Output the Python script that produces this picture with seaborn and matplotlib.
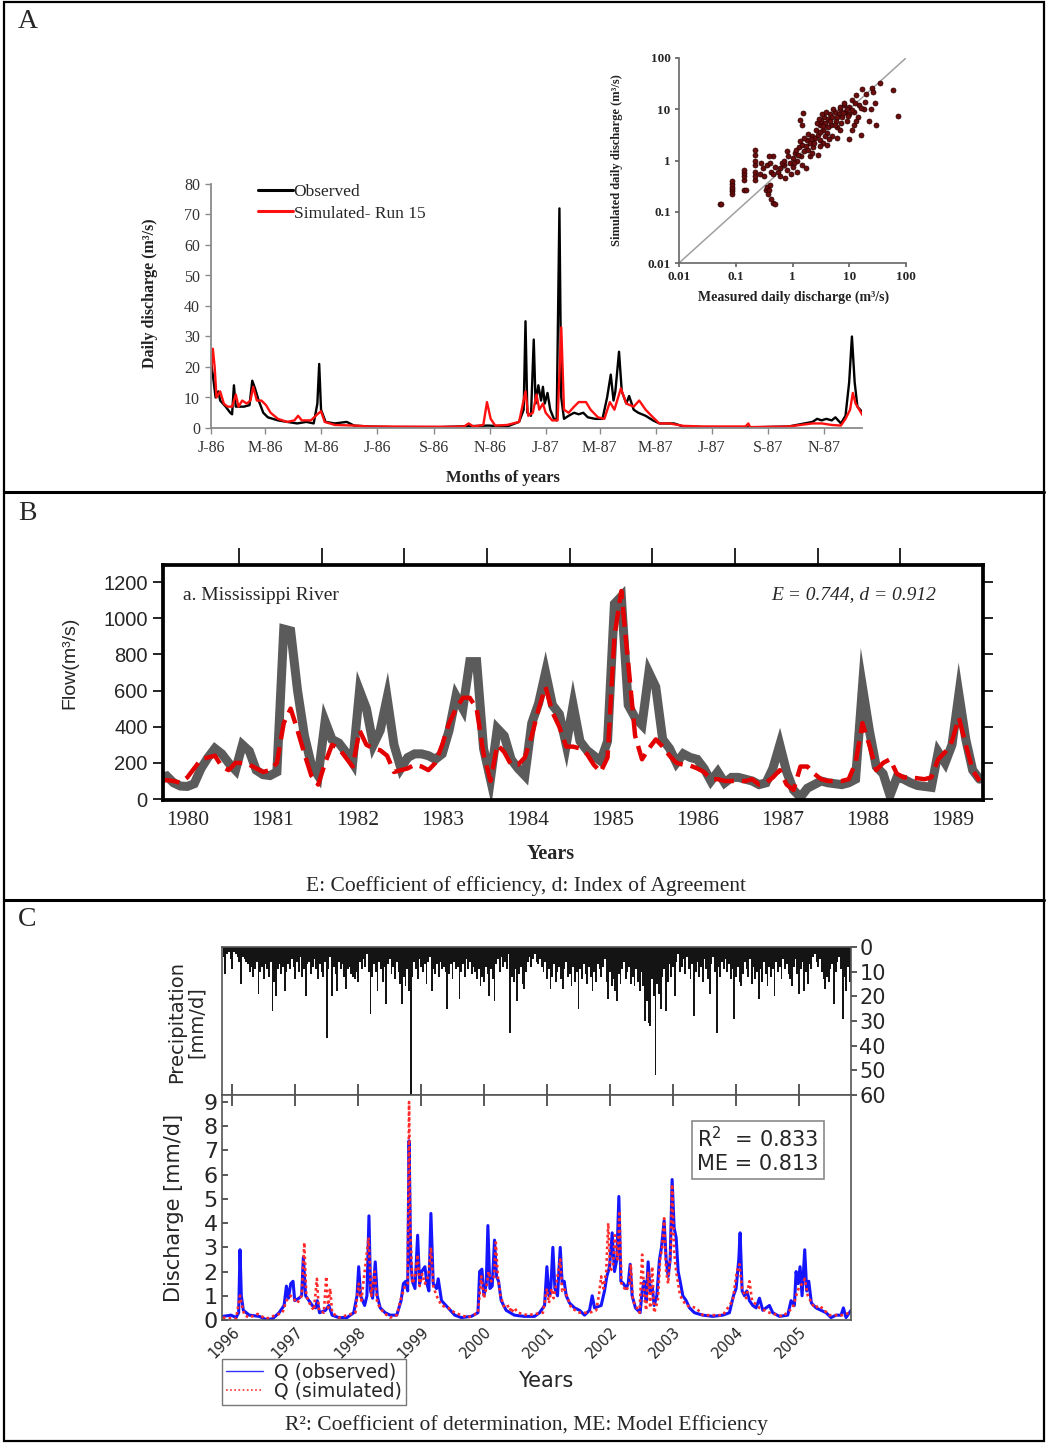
import numpy as np
import pandas as pd
import matplotlib
matplotlib.use("Agg")
import matplotlib.pyplot as plt
import seaborn as sns
from matplotlib.lines import Line2D
from matplotlib.patches import Rectangle

sns.set_theme(style="white")
plt.rcParams["font.family"] = ["Liberation Serif", "DejaVu Sans"]
plt.rcParams["axes.unicode_minus"] = False

# ---------------- DATA: panel A (daily discharge 1986-1987) ----------------
a_month_days = [0, 59, 120, 181, 243, 304, 365, 424, 485, 546, 608, 669]
a_month_labels = ["J-86", "M-86", "M-86", "J-86", "S-86", "N-86",
                  "J-87", "M-87", "M-87", "J-87", "S-87", "N-87"]

a_obs_day = [0, 3, 5, 8, 10, 16, 21, 23, 25, 27, 31, 36, 42, 45, 48, 52, 57, 62, 73, 83,
             94, 104, 112, 116, 118, 120, 125, 135, 148, 156, 172, 198, 250, 302, 323,
             336, 341, 343, 345, 349, 352, 354, 357, 360, 362, 364, 367, 370, 374, 377,
             380, 382, 385, 390, 396, 401, 406, 411, 419, 427, 432, 436, 439, 441, 445,
             448, 453, 456, 461, 466, 474, 482, 489, 505, 515, 536, 588, 630, 656, 661,
             666, 671, 677, 681, 687, 692, 696, 699, 702, 705, 711]
a_obs_q = [22, 15, 10, 12, 9, 7, 5, 4.5, 14, 7, 7, 7, 7.5, 15.5, 13, 9, 5, 3.5, 2.5, 2,
           1.5, 2, 1.5, 8, 21, 6, 2, 1.5, 2, 0.8, 0.5, 0.3, 0.3, 0.8, 0.5,
           2, 6, 35, 5, 4, 29, 8, 14, 9, 13.5, 8, 11.5, 6, 3, 2.5,
           72, 10, 3, 4, 5, 4.5, 5, 3.5, 3, 3, 10, 17.5, 9, 12, 25,
           12, 8, 10.5, 6, 5, 4, 2.5, 1.5, 1.5, 0.5, 0.3, 0.2, 0.5, 2, 3,
           2.5, 3, 2.5, 3.5, 1.5, 4, 15, 30, 15, 7, 5]

a_sim_day = [0, 2, 4, 6, 10, 14, 18, 23, 27, 30, 34, 39, 43, 46, 50, 55, 60, 65, 73, 83,
             91, 95, 99, 109, 116, 120, 124, 135, 156, 172, 250, 276, 281, 286, 297, 301,
             305, 310, 323, 336, 343, 346, 351, 355, 358, 362, 365, 372, 378, 382, 385,
             390, 396, 401, 409, 414, 422, 429, 435, 440, 447, 453, 461, 467, 474, 482,
             489, 500, 515, 536, 583, 586, 588, 630, 656, 666, 677, 687, 692, 697, 700,
             703, 707, 711]
a_sim_q = [18, 26, 20, 10, 12, 8, 7, 7, 11, 7, 9, 8, 9, 13.5, 9, 9, 7.5, 5, 3, 2,
           2.5, 4, 2.5, 2.5, 4.5, 5.5, 2, 1, 0.8, 0.5, 0.4, 0.5, 1.5, 0.5, 1, 8.5,
           3, 0.8, 1, 2, 12, 4, 5, 11, 6, 8, 5, 2.5, 2.5, 33, 6,
           5, 7, 8.5, 8.5, 6, 3.5, 3, 8.5, 6, 13, 8, 7, 9, 6, 3.5,
           1.5, 1.5, 0.7, 0.5, 0.5, 1.5, 0.3, 0.5, 1.5, 1.5, 1, 0.8, 3, 6, 11.5,
           8, 6, 4]

# inset scatter: measured vs simulated daily discharge (m3/s)
a_meas = [0.053, 0.056, 0.086, 0.086, 0.086, 0.086, 0.086, 0.086, 0.137, 0.137, 0.137,
          0.137, 0.14, 0.15, 0.22, 0.22, 0.22, 0.22, 0.22, 0.22, 0.22, 0.27, 0.3, 0.32,
          0.35, 0.4, 0.42, 0.45, 0.5, 0.28, 0.38, 0.34, 0.36, 0.38, 0.4, 0.37, 0.45, 0.5,
          0.42, 0.6, 0.7, 0.8, 0.9, 1.0, 1.0, 1.1, 1.2, 1.3, 1.4, 1.5, 1.6, 1.8, 1.9,
          2.0, 2.2, 2.3, 2.5, 2.6, 2.8, 3.0, 3.0, 3.2, 3.4, 3.6, 3.8, 4.0, 4.2, 4.5,
          4.8, 5.0, 5.5, 5.8, 6.0, 6.5, 7.0, 7.5, 8.0, 8.5, 9.0, 10, 10, 11, 12, 13,
          14, 15, 17, 18, 20, 22, 25, 28, 30, 35, 60, 72, 0.8, 1.5, 2.0, 2.8, 3.5,
          5.0, 6.0, 7.0, 10, 12, 16, 0.95, 0.75, 1.2, 1.7, 4.0, 1.33, 1.56, 1.45,
          0.65, 0.55, 0.7, 0.85, 1.05, 1.15, 1.25, 1.35, 1.6, 1.7, 1.85, 2.1, 2.4,
          2.7, 2.9, 3.1, 3.3, 3.5, 3.7, 3.9, 4.3, 4.6, 5.2, 5.5, 6.2, 6.8, 7.2, 7.8,
          8.2, 9.0, 9.5, 11, 12.5, 13, 16, 19, 24, 26, 0.45, 0.6, 2.2, 3.0, 4.4, 11]
a_simq = [0.14, 0.14, 0.22, 0.25, 0.28, 0.31, 0.35, 0.39, 0.42, 0.5, 0.58,
          0.66, 0.27, 0.27, 0.42, 0.5, 0.6, 0.8, 1.0, 1.3, 1.6, 0.55, 0.7, 0.5,
          0.8, 0.9, 0.6, 1.2, 0.75, 0.9, 1.2, 0.26, 0.3, 0.27, 0.33, 0.22, 0.15, 0.14,
          0.18, 0.7, 0.8, 0.65, 0.9, 1.1, 0.75, 1.4, 1.0, 1.8, 1.2, 2.0, 1.5, 2.5, 1.6,
          2.2, 3.0, 1.8, 2.7, 4.0, 3.2, 5.0, 2.5, 6.0, 4.0, 7.0, 5.5, 3.5, 6.5, 8.0,
          5.0, 7.0, 9.0, 6.0, 4.5, 8.0, 10.0, 7.0, 12.0, 9.0, 6.0, 11, 8, 15, 9, 19,
          7, 12, 25, 10, 20, 6, 26, 13, 5, 32, 24, 7.5, 1.5, 0.8, 1.2, 1.3, 2.2,
          3.0, 2.8, 4.0, 2.6, 5, 3.2, 0.55, 0.45, 0.6, 0.7, 2.0, 6.3, 8.4, 5.0,
          0.9, 0.6, 1.0, 1.2, 0.9, 1.6, 1.3, 2.4, 2.8, 1.9, 3.3, 2.6, 2.2,
          5.5, 6.5, 3.6, 8.0, 4.8, 3.0, 9.0, 4.5, 6.0, 10.0, 5.0, 7.0, 11.0, 5.5, 8.5,
          13.0, 10.0, 7.5, 9.5, 13, 6, 10.5, 14, 10, 22, 0.55, 0.5, 1.4, 1.9, 2.6, 4.0]

# ---------------- DATA: panel B (monthly flow, Mississippi 1980-1989) ----------------
b_years = ["1980", "1981", "1982", "1983", "1984", "1985", "1986", "1987", "1988", "1989"]
b_obs = [120, 128, 90, 72, 70, 85, 170, 230, 280, 250, 200, 160,
         300, 265, 160, 135, 130, 150, 940, 930, 600, 350, 190, 130,
         430, 330, 310, 260, 200, 600, 500, 300, 380, 560, 300, 170,
         230, 250, 250, 240, 220, 250, 380, 570, 500, 760, 760, 280,
         110, 390, 350, 220, 170, 130, 420, 530, 700, 520, 470, 300,
         520, 320, 270, 240, 210, 320, 1080, 1120, 520, 450, 410, 700,
         620, 330, 280, 200, 250, 230, 220, 170, 100, 150, 90, 120,
         120, 110, 100, 80, 90, 170, 300, 150, 50, 10, 60, 80,
         100, 90, 85, 80, 90, 110, 620, 380, 180, 140, 20, 120,
         110, 90, 75, 70, 65, 260, 200, 300, 580, 330, 160, 110]
b_sim = [100, 105, 100, 90, 120, 170, 220, 230, 240, 180, 160, 200,
         200, 190, 170, 150, 160, 200, 420, 500, 380, 250, 130, 80,
         200, 300, 280, 230, 180, 380, 300, 280, 270, 240, 150, 160,
         170, 190, 180, 160, 200, 300, 420, 500, 560, 560, 500, 250,
         100, 300, 260, 190, 190, 230, 350, 500, 620, 480, 400, 290,
         290, 280, 250, 190, 150, 230, 900, 1150, 750, 350, 220, 280,
         330, 290, 240, 200, 190, 185, 170, 150, 110, 110, 100, 100,
         100, 100, 110, 80, 90, 120, 160, 80, 50, 180, 180, 140,
         110, 100, 100, 100, 110, 200, 420, 300, 160, 200, 220, 140,
         120, 120, 115, 110, 120, 220, 260, 320, 450, 300, 160, 100]

# ---------------- DATA: panel C (precipitation & discharge 1996-2005) ----------------
c_years = [1996, 1997, 1998, 1999, 2000, 2001, 2002, 2003, 2004, 2005]
# precipitation, one value per ~10-day step starting late 1995 (mm/d)
c_precip = [
    4, 11, 3, 2, 5, 9, 2, 3, 4, 6, 15, 4, 5, 6, 7, 10, 8, 12, 9, 6, 19, 10, 8, 13, 7, 9, 12, 6, 26, 14, 20, 9, 7, 11, 8, 18,
    10, 7, 9, 5, 8, 13, 6, 10, 4, 12, 9, 20, 7, 6, 11, 8, 5, 9, 13, 7, 10, 12, 6, 37, 9, 4, 20, 8, 11, 18, 6, 9, 7, 12, 17, 9,
    8, 11, 12, 13, 10, 14, 6, 9, 5, 8, 3, 10, 27, 12, 7, 10, 18, 6, 9, 14, 8, 23, 7, 5, 11, 8, 13, 6, 10, 15, 23, 12, 16, 9, 18, 60,
    12, 6, 9, 13, 5, 8, 10, 7, 15, 6, 4, 18, 9, 11, 7, 12, 6, 9, 8, 10, 25, 11, 7, 13, 6, 9, 8, 21, 10, 7, 12, 5, 9, 6, 11, 8,
    10, 13, 9, 16, 12, 14, 8, 11, 20, 9, 13, 22, 7, 5, 10, 4, 8, 6, 9, 3, 35, 12, 14, 9, 22, 11, 8, 15, 17, 10, 6, 4, 8, 5, 3, 6,
    7, 5, 8, 10, 6, 13, 9, 17, 12, 7, 14, 10, 8, 13, 17, 9, 6, 12, 11, 16, 8, 14, 10, 25, 9, 13, 7, 11, 15, 8, 12, 18, 10, 14, 7, 9,
    12, 8, 5, 14, 21, 10, 16, 13, 18, 22, 11, 15, 9, 6, 13, 10, 8, 15, 12, 16, 9, 14, 18, 10, 16, 30, 22, 31, 32, 13, 20, 52, 15, 19, 25, 12,
    9, 26, 14, 7, 12, 8, 20, 6, 3, 10, 8, 5, 11, 4, 9, 13, 7, 28, 10, 6, 12, 8, 14, 5, 9, 13, 19, 7, 4, 10, 35, 8, 12, 6, 9, 5,
    10, 7, 13, 9, 29, 12, 8, 14, 16, 11, 6, 9, 12, 5, 15, 8, 13, 10, 21, 9, 14, 6, 11, 16, 8, 12, 9, 20, 6, 10, 8, 13, 5, 9, 7, 11,
    13, 16, 8, 5, 11, 19, 9, 6, 18, 10, 15, 7, 9, 4, 3, 6, 8, 5, 10, 13, 17, 12, 14, 9, 7, 23, 10, 6, 4, 9, 29, 12, 18, 8, 14, 10]

c_obs_t = [1995.853, 1995.984, 1996.063, 1996.105, 1996.126, 1996.147, 1996.179, 1996.274, 1996.432,
           1996.537, 1996.642, 1996.747, 1996.826, 1996.863, 1996.895, 1996.932, 1996.968, 1996.995,
           1997.063, 1997.105, 1997.132, 1997.168, 1997.221, 1997.274, 1997.326, 1997.353, 1997.389,
           1997.484, 1997.537, 1997.589, 1997.695, 1997.826, 1997.932, 1997.984, 1998.011, 1998.042,
           1998.105, 1998.142, 1998.174, 1998.2, 1998.232, 1998.274, 1998.305, 1998.353, 1998.432,
           1998.511, 1998.616, 1998.684, 1998.721, 1998.758, 1998.789, 1998.811, 1998.837, 1998.863,
           1998.905, 1998.947, 1998.979, 1999.011, 1999.063, 1999.095, 1999.126, 1999.158, 1999.195,
           1999.247, 1999.274, 1999.326, 1999.432, 1999.537, 1999.642, 1999.8, 1999.905, 1999.932,
           1999.968, 2000.0, 2000.037, 2000.063, 2000.095, 2000.132, 2000.168, 2000.2, 2000.232,
           2000.274, 2000.353, 2000.484, 2000.642, 2000.804, 2000.884, 2000.963, 2001.0, 2001.032,
           2001.058, 2001.095, 2001.127, 2001.169, 2001.212, 2001.243, 2001.275, 2001.307, 2001.36,
           2001.439, 2001.519, 2001.598, 2001.677, 2001.72, 2001.757, 2001.862, 2001.915, 2001.952,
           2001.995, 2002.037, 2002.074, 2002.111, 2002.143, 2002.175, 2002.217, 2002.259, 2002.291,
           2002.323, 2002.354, 2002.407, 2002.481, 2002.513, 2002.545, 2002.577, 2002.608, 2002.64,
           2002.672, 2002.704, 2002.746, 2002.788, 2002.82, 2002.862, 2002.894, 2002.926, 2002.958,
           2002.989, 2003.021, 2003.053, 2003.085, 2003.116, 2003.159, 2003.212, 2003.265, 2003.344,
           2003.476, 2003.635, 2003.794, 2003.899, 2003.963, 2004.005, 2004.048, 2004.069, 2004.101,
           2004.138, 2004.175, 2004.217, 2004.27, 2004.323, 2004.376, 2004.429, 2004.534, 2004.587,
           2004.693, 2004.825, 2004.878, 2004.931, 2004.958, 2004.989, 2005.021, 2005.053, 2005.095,
           2005.127, 2005.159, 2005.201, 2005.275, 2005.354, 2005.434, 2005.513, 2005.593, 2005.672,
           2005.709, 2005.751, 2005.831]
c_obs_q = [0.15, 0.2, 0.1, 0.3, 2.9, 1.0, 0.4, 0.2, 0.15,
           0.02, 0.05, 0.3, 0.6, 1.4, 0.9, 1.5, 1.6, 0.8,
           0.9, 1.0, 2.6, 1.0, 0.8, 0.6, 0.5, 0.8, 0.3,
           0.4, 0.6, 0.2, 0.1, 0.1, 0.3, 1.0, 2.2, 1.0,
           0.6, 1.0, 4.3, 1.2, 0.9, 2.4, 1.0, 0.5, 0.3,
           0.2, 0.2, 0.8, 1.5, 1.6, 1.2, 7.4, 2.5, 1.6,
           1.3, 3.5, 1.5, 2.0, 2.2, 1.5, 1.2, 4.4, 1.5,
           1.3, 1.7, 0.8, 0.5, 0.2, 0.1, 0.15, 0.3, 2.0,
           2.1, 1.0, 1.5, 3.9, 1.3, 1.4, 3.3, 1.8, 1.6,
           0.8, 0.4, 0.2, 0.15, 0.15, 0.3, 0.6, 2.2, 1.0,
           1.1, 3.0, 1.3, 1.0, 3.0, 1.5, 1.6, 1.0, 0.7,
           0.5, 0.4, 0.2, 0.4, 1.0, 0.5, 0.6, 1.2, 1.8,
           2.2, 3.6, 2.0, 2.5, 5.1, 1.6, 1.5, 1.3, 1.5,
           2.3, 1.0, 0.5, 0.3, 1.2, 1.6, 0.8, 2.4, 1.2,
           1.4, 0.6, 1.0, 2.5, 3.0, 4.1, 2.5, 1.8, 2.5,
           5.8, 3.8, 3.4, 2.0, 1.6, 1.0, 0.8, 0.5, 0.3,
           0.2, 0.15, 0.2, 0.3, 1.0, 1.3, 2.5, 3.6, 1.2,
           1.0, 1.2, 0.8, 0.6, 0.5, 0.9, 0.4, 0.6, 0.3,
           0.15, 0.2, 0.8, 0.6, 2.0, 1.5, 2.2, 1.0, 2.9,
           1.2, 1.6, 0.7, 0.5, 0.4, 0.3, 0.1, 0.2, 0.2,
           0.5, 0.1, 0.4]

c_sim_t = [1995.853, 1996.063, 1996.126, 1996.147, 1996.195, 1996.274, 1996.405, 1996.537, 1996.8,
           1996.863, 1996.932, 1996.968, 1997.037, 1997.105, 1997.147, 1997.179, 1997.247, 1997.3,
           1997.347, 1997.379, 1997.458, 1997.495, 1997.526, 1997.558, 1997.589, 1997.695, 1997.958,
           1998.011, 1998.053, 1998.168, 1998.211, 1998.263, 1998.305, 1998.405, 1998.511, 1998.616,
           1998.695, 1998.747, 1998.789, 1998.811, 1998.832, 1998.863, 1998.905, 1998.947, 1998.979,
           1999.021, 1999.063, 1999.116, 1999.158, 1999.195, 1999.247, 1999.326, 1999.432, 1999.537,
           1999.747, 1999.905, 1999.958, 2000.0, 2000.037, 2000.074, 2000.116, 2000.158, 2000.189,
           2000.221, 2000.263, 2000.326, 2000.405, 2000.432, 2000.484, 2000.537, 2000.695, 2000.937,
           2001.0, 2001.032, 2001.074, 2001.106, 2001.138, 2001.212, 2001.243, 2001.275, 2001.386,
           2001.519, 2001.677, 2001.783, 2001.825, 2001.862, 2001.899, 2001.942, 2001.974, 2002.005,
           2002.048, 2002.079, 2002.122, 2002.153, 2002.185, 2002.259, 2002.312, 2002.333, 2002.365,
           2002.471, 2002.513, 2002.545, 2002.577, 2002.608, 2002.64, 2002.672, 2002.704, 2002.762,
           2002.799, 2002.831, 2002.862, 2002.894, 2002.926, 2002.968, 2002.989, 2003.021, 2003.053,
           2003.085, 2003.116, 2003.212, 2003.37, 2003.476, 2003.794, 2003.952, 2004.016, 2004.058,
           2004.101, 2004.164, 2004.217, 2004.259, 2004.376, 2004.534, 2004.746, 2004.905, 2004.958,
           2005.011, 2005.063, 2005.095, 2005.143, 2005.249, 2005.328, 2005.407, 2005.487, 2005.698,
           2005.804]
c_sim_q = [0.1, 0.05, 1.0, 0.7, 0.2, 0.1, 0.25, 0.05, 0.3,
           0.8, 1.0, 0.9, 0.7, 1.0, 3.2, 1.0, 0.6, 0.4,
           1.7, 0.4, 0.3, 1.8, 0.5, 1.3, 0.3, 0.1, 0.3,
           1.5, 0.8, 3.4, 1.0, 2.0, 0.7, 0.3, 0.1, 0.2,
           1.0, 1.4, 1.5, 9.0, 3.7, 1.5, 1.8, 2.7, 1.4,
           1.9, 1.5, 1.8, 3.0, 1.4, 1.0, 0.6, 0.5, 0.3,
           0.1, 0.3, 1.8, 0.9, 1.3, 2.0, 1.6, 1.7, 3.2,
           1.8, 1.0, 0.5, 0.6, 0.3, 0.5, 0.3, 0.2, 0.3,
           1.3, 0.7, 1.3, 0.9, 1.3, 2.5, 1.2, 1.3, 0.5,
           0.3, 0.3, 0.4, 1.0, 1.8, 1.3, 2.0, 4.0, 2.0,
           2.2, 3.5, 2.5, 4.5, 1.5, 1.2, 1.5, 2.3, 0.8,
           0.3, 2.7, 1.0, 0.4, 2.0, 0.5, 2.2, 0.3, 0.8,
           2.5, 3.0, 4.2, 2.0, 1.5, 3.0, 5.6, 2.8, 2.0,
           1.5, 1.0, 0.6, 0.5, 0.2, 0.2, 0.8, 2.0, 2.3,
           1.3, 0.9, 1.6, 0.8, 0.5, 0.3, 0.15, 0.5, 1.0,
           1.4, 1.5, 1.7, 1.0, 0.5, 0.6, 0.4, 0.2, 0.2,
           0.3]

# ---------------- LAYOUT HELPERS ----------------
W, H = 1048, 1443
fig = plt.figure(figsize=(W / 100, H / 100), dpi=100)


def R(l, t, r, b):
    return [l / W, 1 - b / H, (r - l) / W, (b - t) / H]


def ftext(x, y, s, **kw):
    return fig.text(x / W, 1 - y / H, s, **kw)


# outer frame and separators
fig.add_artist(Rectangle((4 / W, 2 / H), 1040 / W, 1439 / H, transform=fig.transFigure,
                         fill=False, lw=1.6, ec="black"))
for yy in (492, 900):
    fig.add_artist(Line2D([4 / W, 1044 / W], [1 - yy / H, 1 - yy / H],
                          transform=fig.transFigure, lw=2.2, color="black"))

SERIF = ["Liberation Serif", "DejaVu Serif"]
SANS = ["Liberation Sans", "DejaVu Sans"]
DJ = ["DejaVu Sans"]

# ================= PANEL A =================
ftext(18, 22, "A", fontsize=20, family=SERIF, va="center")
axA = fig.add_axes(R(211, 184, 862, 428))
sns.lineplot(x=a_obs_day, y=a_obs_q, ax=axA, color="black", lw=1.7, estimator=None, sort=False)
sns.lineplot(x=a_sim_day, y=a_sim_q, ax=axA, color="#ff1010", lw=1.7, estimator=None, sort=False)
axA.set_xlim(0, 710)
axA.set_ylim(0, 80)
axA.set_yticks(range(0, 81, 10))
axA.set_xticks(a_month_days)
axA.set_xticklabels(a_month_labels)
axA.set_xlabel("")
axA.set_ylabel("")
for s in ("top", "right"):
    axA.spines[s].set_visible(False)
for s in ("left", "bottom"):
    axA.spines[s].set_color("#8a8a8a")
    axA.spines[s].set_linewidth(1.3)
axA.tick_params(axis="both", direction="out", length=4, width=1, color="#8a8a8a",
                labelsize=11.5, labelcolor="#333333", pad=4, left=True, bottom=True)
for lab in axA.get_xticklabels() + axA.get_yticklabels():
    lab.set_family(SERIF)
axA.tick_params(axis="x", pad=5)
axA.legend(handles=[Line2D([], [], color="black", lw=2.2), Line2D([], [], color="#ff1010", lw=2.2)],
           labels=["Observed", "Simulated- Run 15"], loc="upper left",
           bbox_to_anchor=(258 / W, 1 - 184 / H), bbox_transform=fig.transFigure,
           frameon=False, handlelength=2.0, handletextpad=0.05, labelspacing=0.3,
           prop={"family": SERIF, "size": 12.5}, borderaxespad=0, borderpad=0)
ftext(150, 293, "Daily discharge (m³/s)", rotation=90, fontsize=11.5, fontweight="bold",
      family=SERIF, ha="center", va="center", color="#222222")
ftext(503, 478, "Months of years", fontsize=12, fontweight="bold", family=SERIF,
      ha="center", va="center", color="#222222")

# inset scatter
axI = fig.add_axes(R(679, 58, 906, 263))
axI.set_xscale("log")
axI.set_yscale("log")
lims = [0.01, 100]
axI.plot(lims, lims, color="#a0a0a0", lw=1.1, zorder=1)
sns.scatterplot(x=a_meas, y=a_simq, ax=axI, color="#6b0d0d", edgecolor="#2a0000",
                s=13, linewidth=0.5, zorder=3, legend=False)
axI.set_xlim(lims)
axI.set_ylim(lims)
dec = [0.01, 0.1, 1, 10, 100]
dec_lab = ["0.01", "0.1", "1", "10", "100"]
axI.set_xticks(dec)
axI.set_xticklabels(dec_lab)
axI.set_yticks(dec)
axI.set_yticklabels(dec_lab)
axI.minorticks_off()
for s in ("top", "right"):
    axI.spines[s].set_visible(False)
for s in ("left", "bottom"):
    axI.spines[s].set_color("#666666")
    axI.spines[s].set_linewidth(1.2)
axI.tick_params(axis="both", direction="out", length=3, color="#666666", labelsize=9.5,
                pad=3, left=True, bottom=True)
for lab in axI.get_xticklabels() + axI.get_yticklabels():
    lab.set_family(SERIF)
    lab.set_fontweight("bold")
axI.set_xlabel("")
axI.set_ylabel("")
ftext(794, 297, "Measured daily discharge (m³/s)", fontsize=10, fontweight="bold",
      family=SERIF, ha="center", va="center", color="#222222")
ftext(617, 160, "Simulated daily discharge (m³/s)", rotation=90, fontsize=9, fontweight="bold",
      family=SERIF, ha="center", va="center", color="#222222")

# ================= PANEL B =================
ftext(18, 513, "B", fontsize=20, family=SERIF, va="center")
axB = fig.add_axes(R(163, 565, 983, 800))
b_t = np.arange(len(b_obs)) + 0.5
sns.lineplot(x=b_t, y=b_obs, ax=axB, color="#5b5b5b", lw=6.5, estimator=None, sort=False,
             solid_joinstyle="miter")
sns.lineplot(x=b_t, y=b_sim, ax=axB, color="#e30000", lw=3.2, estimator=None, sort=False,
             linestyle=(0, (4.5, 1.8)))
axB.set_xlim(0.97, 120)
axB.set_ylim(-5, 1294)
axB.set_yticks(range(0, 1201, 200))
label_pos = [4.5 + 12.34 * k for k in range(len(b_years))]
axB.set_xticks(label_pos)
axB.set_xticklabels(b_years)
axB.set_xticks([12 * k for k in range(1, 10)], minor=True)
axB.tick_params(axis="x", which="major", length=0, pad=8, labelsize=15.5)
axB.tick_params(axis="x", which="minor", top=True, bottom=False, direction="out", length=12,
                width=1.2, color="black")
axB.tick_params(axis="y", left=True, right=True, direction="out", length=7, width=1.2,
                color="black", labelsize=14.5, pad=4)
for lab in axB.get_xticklabels():
    lab.set_family(SERIF)
for lab in axB.get_yticklabels():
    lab.set_family(SANS)
for s in axB.spines.values():
    s.set_color("black")
    s.set_linewidth(2.7)
axB.set_xlabel("")
axB.set_ylabel("")
ftext(183, 595, "a. Mississippi River", fontsize=14, family=SERIF, va="center")
ftext(936, 595, "E = 0.744, d = 0.912", fontsize=14, family=SERIF, style="italic",
      va="center", ha="right")
ftext(70, 663, "Flow(m³/s)", rotation=90, fontsize=14, family=SANS, ha="center", va="center")
ftext(551, 854, "Years", fontsize=14.5, fontweight="bold", family=SERIF, ha="center", va="center")
ftext(526, 886, "E: Coefficient of efficiency, d: Index of Agreement", fontsize=15.5,
      family=SERIF, ha="center", va="center")

# ================= PANEL C =================
ftext(18, 920, "C", fontsize=20, family=SERIF, va="center")
xl = (1995.84, 2005.83)
axP = fig.add_axes(R(222, 947, 851, 1095))
p_t = 1995.85 + np.arange(len(c_precip)) / 36
axP.bar(p_t, c_precip, width=1 / 36, color="#141414", linewidth=0, align="edge")
axP.set_xlim(xl)
axP.set_ylim(60, 0)
axP.set_xticks(c_years)
axP.yaxis.tick_right()
axP.set_yticks(range(0, 61, 10))
axP.tick_params(axis="x", direction="in", length=8, color="#444444", labelbottom=False, bottom=True)
axP.tick_params(axis="y", direction="out", length=4, color="#444444", labelsize=15, pad=2, right=True)
for lab in axP.get_yticklabels():
    lab.set_family(DJ)
for s in axP.spines.values():
    s.set_color("#555555")
    s.set_linewidth(1.2)

axQ = fig.add_axes(R(222, 1095, 851, 1320))
sns.lineplot(x=c_obs_t, y=c_obs_q, ax=axQ, color="#1515ff", lw=2.2, estimator=None, sort=False)
sns.lineplot(x=c_sim_t, y=c_sim_q, ax=axQ, color="#ff2a2a", lw=1.9, estimator=None, sort=False,
             linestyle=(0, (1, 1.2)))
axQ.set_xlim(xl)
axQ.set_ylim(0, 9.29)
axQ.set_yticks(range(0, 10))
axQ.set_xticks(c_years)
axQ.set_xticklabels([str(y) for y in c_years], rotation=45, ha="right", rotation_mode="anchor")
axQ.tick_params(axis="x", direction="in", length=8, color="#444444", top=True, bottom=False,
                labelsize=10.5, pad=3)
axQ.tick_params(axis="y", direction="in", length=4, color="#444444", labelsize=16, pad=3, left=True)
for lab in axQ.get_xticklabels() + axQ.get_yticklabels():
    lab.set_family(DJ)
for s in axQ.spines.values():
    s.set_color("#555555")
    s.set_linewidth(1.2)
axQ.set_xlabel("")
axQ.set_ylabel("")
ftext(758, 1150, "R$^2$  = 0.833\nME = 0.813", fontsize=15, family=DJ, ha="center", va="center",
      linespacing=1.15,
      bbox=dict(boxstyle="square,pad=0.25", fc="white", ec="#8a8a8a", lw=1.2))
ftext(174, 1208, "Discharge [mm/d]", rotation=90, fontsize=15, family=DJ, ha="center", va="center")
ftext(186, 1022, "Precipitation\n[mm/d]", rotation=90, fontsize=14, family=DJ, ha="center",
      va="center", linespacing=1.05)
fig.legend(handles=[Line2D([], [], color="#3030ff", lw=1.0),
                    Line2D([], [], color="#ff3030", lw=1.2, linestyle=(0, (1, 1.5)))],
           labels=["Q (observed)", "Q (simulated)"], loc="upper left",
           bbox_to_anchor=(222 / W, 1 - 1359 / H), frameon=True, fancybox=False,
           edgecolor="#777777", framealpha=1, prop={"family": DJ, "size": 13.5},
           handlelength=2.0, labelspacing=0.0, borderpad=0.2, borderaxespad=0,
           handletextpad=0.6)
ftext(546, 1381, "Years", fontsize=15, family=DJ, ha="center", va="center")
ftext(526, 1425, "R²: Coefficient of determination, ME: Model Efficiency", fontsize=15.5,
      family=SERIF, ha="center", va="center")

fig.savefig("out.png", dpi=100)
